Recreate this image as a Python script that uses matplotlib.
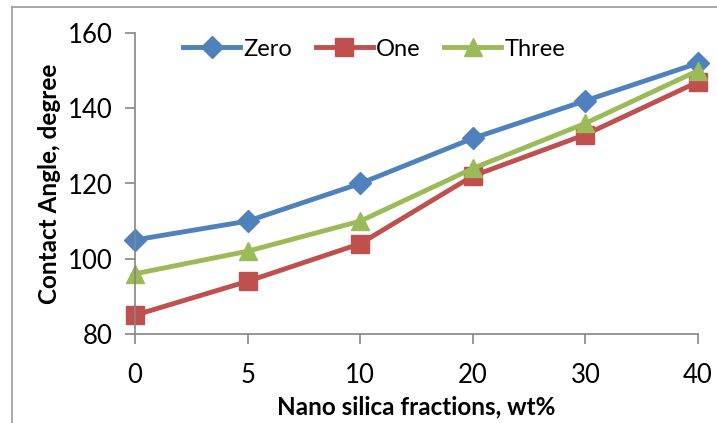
import matplotlib
matplotlib.use("Agg")
import matplotlib.pyplot as plt
from matplotlib.lines import Line2D

categories = ["0", "5", "10", "20", "30", "40"]
zero = [105, 110, 120, 132, 142, 152]
one = [85, 94, 104, 122, 133, 147]
three = [96, 102, 110, 124, 136, 150]
series_names = ["Zero", "One", "Three"]

plt.rcParams["font.family"] = ["Lato", "DejaVu Sans"]

W, H = 717, 423
fig = plt.figure(figsize=(W / 100, H / 100), dpi=100)
ax = fig.add_axes([135 / W, 1 - 334 / H, (698 - 135) / W, (334 - 33) / H])

x = list(range(len(categories)))
styles = [
    (zero, "#4F81BD", "D", 11.5),
    (one, "#C0504D", "s", 12.5),
    (three, "#9BBB59", "^", 13),
]
for (vals, col, mk, ms), name in zip(styles, series_names):
    ax.plot(x, vals, color=col, lw=3.5, marker=mk, markersize=ms,
            markerfacecolor=col, markeredgecolor=col, label=name,
            solid_joinstyle="round", clip_on=False)

ax.set_xlim(0, len(categories) - 1)
ax.set_ylim(80, 160)
ax.set_yticks([80, 100, 120, 140, 160])
ax.set_xticks(x)
ax.set_xticklabels(categories)

for s in ["top", "right"]:
    ax.spines[s].set_visible(False)
for s in ["left", "bottom"]:
    ax.spines[s].set_color("#868686")
    ax.spines[s].set_linewidth(1.2)
ax.tick_params(axis="both", colors="#868686", length=7, width=1.2,
               labelsize=18.5, labelcolor="black")
ax.tick_params(axis="x", pad=14)
ax.tick_params(axis="y", pad=9)

ax.set_xlabel("Nano silica fractions, wt%", fontsize=17.5, fontweight="bold",
              labelpad=5)
ax.set_ylabel("Contact Angle, degree", fontsize=17.5, fontweight="bold",
              labelpad=5)

ax.legend(loc="upper center", bbox_to_anchor=(0.425, 1.052), ncol=3,
          frameon=False, fontsize=17, handlelength=2.4, handletextpad=0.15,
          columnspacing=1.0, markerscale=1.0)

# chart area outline
fig.add_artist(Line2D([12 / W, 12 / W], [0, 1 - 7 / H], color="#9a9a9a",
                      lw=1.2, transform=fig.transFigure))
fig.add_artist(Line2D([12 / W, 1], [1 - 7 / H, 1 - 7 / H], color="#9a9a9a",
                      lw=1.2, transform=fig.transFigure))

fig.savefig("out.png", dpi=100)
